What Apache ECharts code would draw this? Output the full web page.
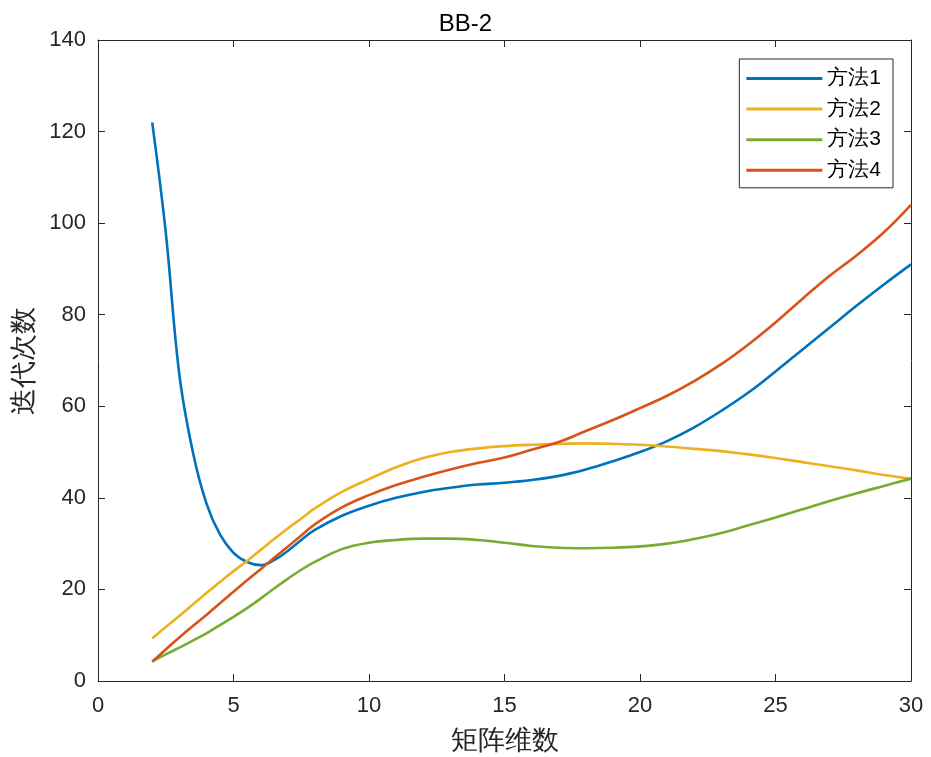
<!DOCTYPE html>
<html>
<head>
<meta charset="utf-8">
<script src="https://cdn.jsdelivr.net/npm/echarts@6/dist/echarts.min.js"></script>
<style>html,body{margin:0;padding:0;background:#fff}#c{width:931px;height:757px}</style>
</head>
<body>
<div id="c"></div>
<script>
const xs = [2,2.5,3,3.5,4,4.5,5,5.5,6,6.5,7,7.5,8,9,10,11,12,13,14,15,16,17,18,19,20,21,22,23,24,25,26,27,28,29,30];
const method1 = [122,98,67,50,38.8,32,28,26,25.3,26.4,28.4,30.8,33,36.1,38.3,40,41.3,42.2,42.9,43.3,43.9,44.8,46.2,48,50,52.4,55.4,59,63,67.6,72.4,77.2,82,86.6,91];
const method2 = [9.3,11.8,14.2,16.7,19.2,21.6,24,26.2,28.6,31,33.3,35.5,37.7,41.3,44.1,46.7,48.7,50,50.8,51.3,51.6,51.8,51.9,51.8,51.6,51.2,50.7,50.2,49.5,48.7,47.8,46.9,46,45,44.2];
const method3 = [4.3,5.8,7.3,8.8,10.4,12.2,14,15.9,18,20.2,22.3,24.3,26,28.8,30.2,30.8,31.1,31.1,30.8,30.2,29.5,29.1,29,29.1,29.4,30,31,32.3,34,35.7,37.5,39.3,41,42.6,44.2];
const method4 = [4.2,6.9,9.5,12,14.4,17,19.5,22,24.4,26.9,29.3,31.8,34.2,37.9,40.6,42.8,44.6,46.2,47.6,48.8,50.5,52.2,54.6,57,59.6,62.3,65.5,69.2,73.5,78.3,83.5,88.5,93,98,104];
const names = ['方法1','方法2','方法3','方法4'];
const colors = ['#0072BD','#EDB120','#77AC30','#D95319'];
const xTicks = {min:0,max:30,interval:5};
const yTicks = {min:0,max:140,interval:20};

const chart = echarts.init(document.getElementById('c'));
const font = '"Liberation Sans", Arial, Helvetica, sans-serif';
const axisCol = '#262626';
function pair(vals){ return xs.map((x,i)=>[x, vals[i]]); }
const all = [method1, method2, method3, method4];
function baseAxis(){
  return {
    axisLine:{show:true,onZero:false,lineStyle:{color:axisCol,width:1}},
    axisTick:{show:true,inside:true,length:7,lineStyle:{color:axisCol,width:1}},
    splitLine:{show:false}
  };
}
chart.setOption({
  animation:false,
  backgroundColor:'#fff',
  title:{text:'BB-2',left:'center',top:7,textStyle:{fontFamily:font,fontSize:24,fontWeight:'normal',color:'#000'}},
  grid:{left:98,right:20,top:40,bottom:76,outerBoundsMode:'none',containLabel:false},
  legend:{
    orient:'vertical', right:38, top:59,
    data:names,
    icon:'rect', itemWidth:76, itemHeight:3, itemGap:9.6,
    padding:[9,12,7,7],
    borderColor:axisCol, borderWidth:1, backgroundColor:'#fff',
    textStyle:{fontFamily:font,fontSize:21,color:'#000',lineHeight:20}
  },
  xAxis:[
    Object.assign(baseAxis(),{type:'value',position:'bottom',min:xTicks.min,max:xTicks.max,interval:xTicks.interval,
      name:'矩阵维数',nameLocation:'middle',nameGap:47,
      nameTextStyle:{fontFamily:font,fontSize:27,color:'#262626'},
      axisLabel:{fontFamily:font,fontSize:22,color:'#262626',margin:14}}),
    Object.assign(baseAxis(),{type:'value',position:'top',min:xTicks.min,max:xTicks.max,interval:xTicks.interval,axisLabel:{show:false}})
  ],
  yAxis:[
    Object.assign(baseAxis(),{type:'value',position:'left',min:yTicks.min,max:yTicks.max,interval:yTicks.interval,
      name:'迭代次数',nameLocation:'middle',nameGap:55,nameRotate:90,
      nameTextStyle:{fontFamily:font,fontSize:27,color:'#262626'},
      axisLabel:{fontFamily:font,fontSize:22,color:'#262626',margin:12}}),
    Object.assign(baseAxis(),{type:'value',position:'right',min:yTicks.min,max:yTicks.max,interval:yTicks.interval,axisLabel:{show:false}})
  ],
  series: names.map((n,i)=>({
    name:n, type:'line', xAxisIndex:0, yAxisIndex:0,
    data:pair(all[i]), smooth:0.4, symbol:'none',
    lineStyle:{color:colors[i],width:2.6}, itemStyle:{color:colors[i]}
  }))
});
</script>
</body>
</html>
